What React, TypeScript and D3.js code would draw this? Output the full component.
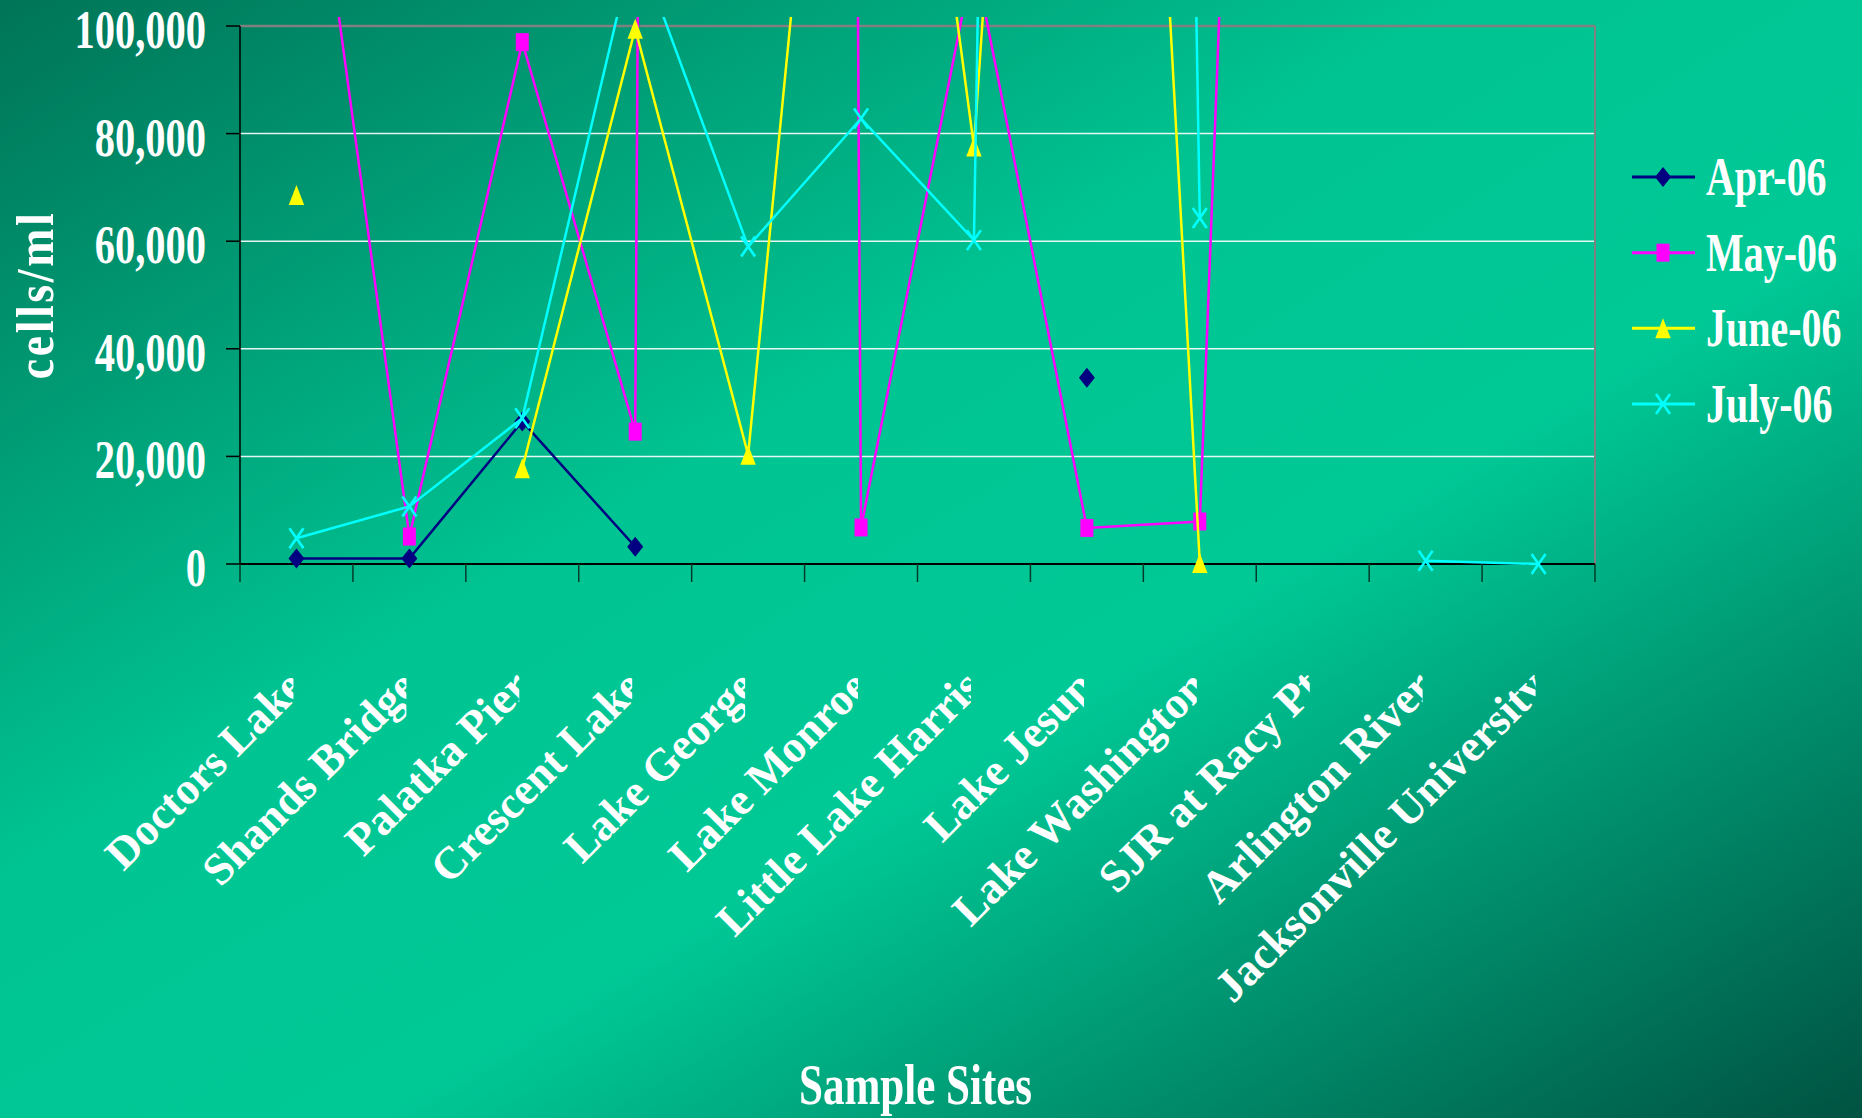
import React from "react";
import * as d3 from "d3";

const W = 1862;
const H = 1118;

const sites = [
  "Doctors Lake",
  "Shands Bridge",
  "Palatka Pier",
  "Crescent Lake",
  "Lake George",
  "Lake Monroe",
  "Little Lake Harris",
  "Lake Jesup",
  "Lake Washington",
  "SJR at Racy Pt",
  "Arlington River",
  "Jacksonville University",
];

const seriesNames = ["Apr-06", "May-06", "June-06", "July-06"];

const apr06 = [1000, 1000, 26500, 3200, null, null, null, 34600, null, null, null, null];
const may06 = [160000, 5100, 97000, 24600, 3500000, 6800, 113000, 6700, 7900, 553000, null, null];
const june06 = [68600, null, 17800, 99500, 20300, 235000, 77600, 385000, 200, null, null, null];
const july06 = [4800, 10700, 27100, 116000, 59000, 82800, 60200, 1300000, 64300, null, 600, 0];

const yTicks = [0, 20000, 40000, 60000, 80000, 100000];
const gridTicks = [20000, 40000, 60000, 80000];

const seriesValues = [apr06, may06, june06, july06];
const seriesColors = ["#000080", "#FF00FF", "#FFFF00", "#00FFFF"];
const markerKinds = ["diamond", "square", "triangle", "x"];

const FONT = "'Liberation Serif', 'Times New Roman', serif";

const plot = { left: 240, right: 1595, top: 26, bottom: 564 };

function Marker({ kind, color }: { kind: string; color: string }) {
  if (kind === "diamond") return <path d="M0,-10 L8,0 L0,10 L-8,0 Z" fill={color} />;
  if (kind === "square") return <path d="M-6.5,-9 H6.5 V9 H-6.5 Z" fill={color} />;
  if (kind === "triangle") return <path d="M0,-10 L7.7,10 L-7.7,10 Z" fill={color} />;
  return <path d="M-7,-10 L7,10 M7,-10 L-7,10" stroke={color} strokeWidth={2.6} fill="none" />;
}

export default function App() {
  const x = d3.scaleBand<string>().domain(sites).range([plot.left, plot.right]).padding(0);
  const bw = x.bandwidth();
  const cx = (s: string) => (x(s) as number) + bw / 2;
  const y = d3.scaleLinear().domain([0, 100000]).range([plot.bottom, plot.top]);

  const line = d3
    .line<number | null>()
    .defined((d) => d !== null)
    .x((_, i) => cx(sites[i]))
    .y((d) => y(d as number));

  const boundaries = d3.range(sites.length + 1).map((i) => plot.left + i * bw);

  const legendY = d3.scalePoint<string>().domain(seriesNames).range([177, 404]);

  return (
    <svg
      width={W}
      height={H}
      style={{ position: "absolute", left: 0, top: 0, display: "block" }}
      fontFamily={FONT}
      fontWeight="bold"
    >
      <defs>
        <linearGradient id="bg" x1="0" y1="0" x2="1" y2="1">
          <stop offset="0" stopColor="#007457" />
          <stop offset="0.4" stopColor="#00c593" />
          <stop offset="0.6" stopColor="#00c996" />
          <stop offset="1" stopColor="#005241" />
        </linearGradient>
        <clipPath id="plotClip">
          <rect x={plot.left} y={17} width={plot.right - plot.left} height={plot.bottom - 17 + 30} />
        </clipPath>
        {sites.map((s, i) => (
          <clipPath id={`lab${i}`} key={s}>
            <rect x={0} y={plot.bottom} width={cx(s) - 3} height={H - plot.bottom} />
          </clipPath>
        ))}
      </defs>
      <rect x={0} y={0} width={W} height={H} fill="url(#bg)" />

      {/* gridlines */}
      {gridTicks.map((t) => (
        <line key={t} x1={plot.left} x2={plot.right} y1={y(t)} y2={y(t)} stroke="#ffffff" strokeWidth={1.5} opacity={0.9} />
      ))}
      {/* frame */}
      <line x1={plot.left} x2={plot.right} y1={plot.top} y2={plot.top} stroke="#808080" strokeWidth={2.5} />
      <line x1={plot.right} x2={plot.right} y1={plot.top} y2={plot.bottom} stroke="#808080" strokeWidth={2} />
      {/* axes */}
      <line x1={plot.left} x2={plot.left} y1={plot.top} y2={plot.bottom} stroke="#000000" strokeWidth={1.5} />
      <line x1={plot.left} x2={plot.right} y1={plot.bottom} y2={plot.bottom} stroke="#000000" strokeWidth={2} />
      {yTicks.map((t) => (
        <line key={t} x1={plot.left - 14} x2={plot.left} y1={y(t)} y2={y(t)} stroke="#000000" strokeWidth={1.5} />
      ))}
      {boundaries.map((b, i) => (
        <line key={i} x1={b} x2={b} y1={plot.bottom} y2={plot.bottom + 18} stroke="#053b2a" strokeWidth={1.5} />
      ))}

      {/* y tick labels */}
      {yTicks.map((t) => (
        <g key={t} transform={`translate(206, ${y(t) + 22}) scale(0.75, 1)`}>
          <text textAnchor="end" fontSize={54} fill="#ffffff">
            {d3.format(",")(t)}
          </text>
        </g>
      ))}

      {/* y title */}
      <g transform={`translate(53, 295) rotate(-90) scale(0.88, 1)`}>
        <text textAnchor="middle" fontSize={52} fill="#ffffff" letterSpacing={3}>
          cells/ml
        </text>
      </g>

      {/* x labels */}
      {sites.map((s, i) => (
        <g key={s} clipPath={`url(#lab${i})`}>
          <text
            transform={`translate(${cx(s) + 10}, 689) rotate(-45)`}
            textAnchor="end"
            fontSize={45}
            fill="#ffffff"
          >
            {s}
          </text>
        </g>
      ))}

      {/* x title */}
      <g transform={`translate(${(plot.left + plot.right) / 2 - 2}, 1104) scale(0.755, 1)`}>
        <text textAnchor="middle" fontSize={57} fill="#ffffff">
          Sample Sites
        </text>
      </g>

      {/* series */}
      <g clipPath="url(#plotClip)">
        {seriesValues.map((vals, si) => (
          <g key={si}>
            <path d={line(vals) || ""} fill="none" stroke={seriesColors[si]} strokeWidth={2.5} />
            {vals.map((v, i) =>
              v === null ? null : (
                <g key={i} transform={`translate(${cx(sites[i])}, ${y(v)})`}>
                  <Marker kind={markerKinds[si]} color={seriesColors[si]} />
                </g>
              )
            )}
          </g>
        ))}
      </g>

      {/* legend */}
      {seriesNames.map((n, si) => {
        const ly = legendY(n) as number;
        return (
          <g key={n}>
            <line x1={1632} x2={1695} y1={ly} y2={ly} stroke={seriesColors[si]} strokeWidth={3} />
            <g transform={`translate(1663, ${ly})`}>
              <Marker kind={markerKinds[si]} color={seriesColors[si]} />
            </g>
            <g transform={`translate(1706, ${ly + 18}) scale(0.74, 1)`}>
              <text fontSize={54} fill="#ffffff">
                {n}
              </text>
            </g>
          </g>
        );
      })}
    </svg>
  );
}
